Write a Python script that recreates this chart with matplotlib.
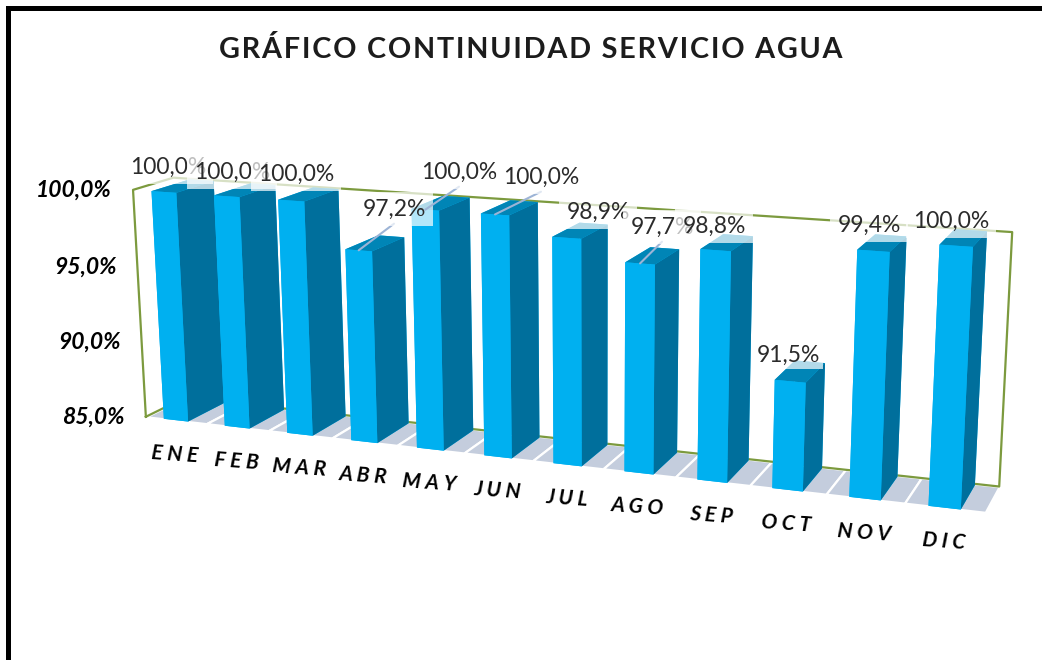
import matplotlib
matplotlib.use('Agg')
import matplotlib.pyplot as plt
from matplotlib.patches import Rectangle
from mpl_toolkits.mplot3d import proj3d
from mpl_toolkits.mplot3d.art3d import Poly3DCollection

months = ['ENE', 'FEB', 'MAR', 'ABR', 'MAY', 'JUN', 'JUL', 'AGO', 'SEP', 'OCT', 'NOV', 'DIC']
values = [100.0, 100.0, 100.0, 97.2, 100.0, 100.0, 98.9, 97.7, 98.8, 91.5, 99.4, 100.0]
y_ticks = [85, 90, 95, 100]

# label centres in figure pixels (from the top left)
label_x = [168, 232, 296, 394, 459, 541, 598, 662, 714, 788, 869, 951]
label_y = [167, 172, 174, 209, 172, 177, 212, 227, 226, 355, 225, 221]
with_leader = ['ABR', 'MAY', 'JUN', 'AGO']

W, H = 1042, 660
plt.rcParams['font.family'] = ['Lato', 'DejaVu Sans']

fig = plt.figure(figsize=(W / 100, H / 100), dpi=100)

# square axes placed so the projected box lands on the reference frame
s, tx, ty = 4891.6, 546.3, 328.6
side = s * 0.185
ax = fig.add_axes([(tx - s * 0.095) / W, (ty - s * 0.095) / H, side / W, side / H],
                  projection='3d', computed_zorder=False)
ax.view_init(elev=14.09, azim=-68.588, roll=0.355)
ax.set_proj_type('persp', focal_length=0.4132)
ax.set_box_aspect((1, 0.0888, 0.2762))
ax.set_axis_off()
ax.patch.set_visible(False)

# floor
for i in range(len(months)):
    cell = [(i, 0, 85), (i + 1, 0, 85), (i + 1, 1, 85), (i, 1, 85)]
    ax.add_collection3d(Poly3DCollection([cell], facecolor='#C4CDDD', edgecolor='white',
                                         linewidth=1.6, zorder=1, clip_on=False))

# frame
fx = [0, 0, 0, 12, 12, 0, 0]
fy = [0, 0, 1, 1, 1, 1, 0]
fz = [85, 100, 100, 100, 85, 85, 85]
ax.plot(fx, fy, fz, color='#7C9A3E', lw=1.6, zorder=2, clip_on=False)

# bars, left to right because the right end is nearer
faces = ['#00B0F0', '#0085B6', '#00B0F0', '#00B0F0', '#00B0F0', '#006F9C']
for i, v in enumerate(values):
    bar = ax.bar3d(i + 0.3, 0.0, 85, 0.4, 0.95, v - 85, color=faces, shade=False,
                   linewidth=0, zorder=3 + i)
    bar.set_clip_on(False)

ax.set_xlim(0, 12)
ax.set_ylim(0, 1)
ax.set_zlim(85, 100)
M = ax.get_proj()


def to2d(x, y, z):
    px, py, _ = proj3d.proj_transform(x, y, z, M)
    return float(px), float(py)


# value labels; every box veils what was drawn before it
for i, v in enumerate(values):
    txt = f'{v:.1f}%'.replace('.', ',')
    props = None
    if months[i] in with_leader:
        props = dict(arrowstyle='-', color='#9DB4D6', lw=1.5, shrinkA=0, shrinkB=0,
                     relpos=(0.5, -0.2), patchA=None)
    # the OCT box must stay clear of the SEP bar
    pad = 0.15 if months[i] == 'OCT' else 0.3
    ax.annotate(txt, xy=to2d(i + 0.5, 0, v), xycoords='data',
                xytext=(label_x[i], H - label_y[i]), textcoords='figure pixels',
                ha='center', va='center', fontsize=16.5, color='#2b2b2b',
                bbox=dict(boxstyle=f'square,pad={pad}', fc='white', ec='none', alpha=0.7),
                arrowprops=props, annotation_clip=False, zorder=30 + i)

# value axis
for t in y_ticks:
    ax.annotate(f'{t:.1f}%'.replace('.', ','), xy=to2d(0, 0, t), xycoords='data',
                xytext=(-21, 0), textcoords='offset pixels', ha='right', va='center',
                fontsize=16.5, fontweight='bold', fontstyle='italic', color='black',
                annotation_clip=False, zorder=50)

# category axis
for i, m in enumerate(months):
    ax.annotate(' '.join(m), xy=to2d(i + 0.5, 0, 85), xycoords='data',
                xytext=(-1, -34), textcoords='offset pixels', ha='center', va='center',
                fontsize=15, fontweight='bold', fontstyle='italic', color='black',
                rotation=-4, rotation_mode='anchor', annotation_clip=False, zorder=50)

fig.text(531 / W, 1 - 50 / H, '\u200a'.join('GRÁFICO CONTINUIDAD SERVICIO AGUA'),
         ha='center', va='center', fontsize=20.7, fontweight='bold', color='#1c1c1c')

# black border, open at the bottom and right
fig.add_artist(Rectangle((6 / W, 0), 5 / W, 1 - 6 / H, transform=fig.transFigure,
                         fc='black', ec='none'))
fig.add_artist(Rectangle((6 / W, 1 - 11 / H), 1 - 6 / W, 5 / H, transform=fig.transFigure,
                         fc='black', ec='none'))

fig.savefig('out.png', dpi=100)
